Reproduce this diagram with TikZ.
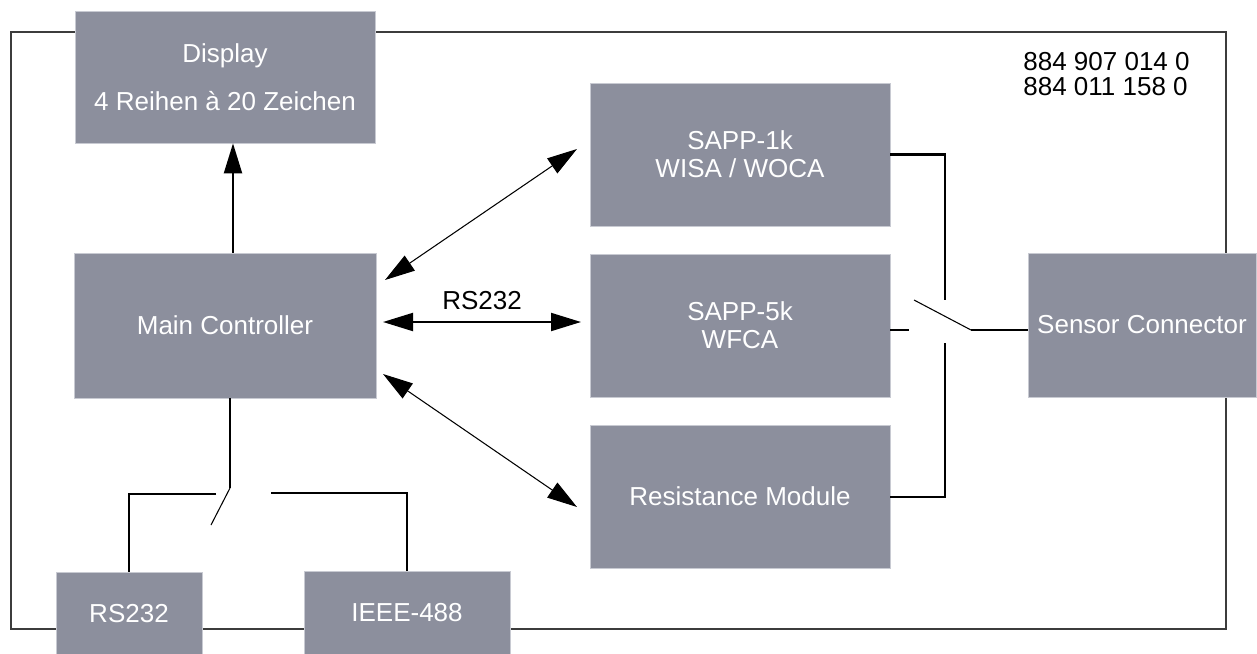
\documentclass[tikz,border=0pt]{standalone}
\usepackage{fontspec}
\setmainfont{Liberation Sans}
\usetikzlibrary{arrows.meta}
\definecolor{boxgray}{RGB}{140,143,157}
\definecolor{boxedge}{RGB}{200,202,210}
\definecolor{framegray}{RGB}{60,60,60}
\tikzset{
  blk/.style={rectangle, fill=boxgray, draw=boxedge, line width=0.4pt, inner sep=0pt,
    text=white, align=center, font=\fontsize{14.8}{15.9}\selectfont},
  wire/.style={line width=1.15pt, black},
  blade/.style={line width=0.6pt, black},
  bigtip/.style={-{Triangle[length=0.6cm,width=0.36cm]}},
  dbltip/.style={{Triangle[length=0.6cm,width=0.36cm]}-{Triangle[length=0.6cm,width=0.36cm]}},
  lbl/.style={font=\fontsize{14.8}{14.2}\selectfont, text=black, inner sep=0pt}
}
\begin{document}
\begin{tikzpicture}[x=0.02cm, y=-0.02cm]
\useasboundingbox (0,0) rectangle (1257,653);
% outer frame
\draw[framegray, line width=0.6pt] (11,32) rectangle (1226,629);
% blocks
\node[blk, minimum width=6cm, minimum height=2.64cm] (disp) at (225,77) {Display\\[11.4pt]4 Reihen à 20 Zeichen};
\node[blk, minimum width=6.04cm, minimum height=2.9cm] (main) at (225,325.5) {Main Controller};
\node[blk, minimum width=6cm, minimum height=2.86cm] (s1) at (740,154.5) {SAPP-1k\\WISA / WOCA};
\node[blk, minimum width=6cm, minimum height=2.86cm] (s5) at (740,325.5) {SAPP-5k\\WFCA};
\node[blk, minimum width=6cm, minimum height=2.86cm] (res) at (740,496.5) {Resistance Module};
\node[blk, minimum width=4.56cm, minimum height=2.88cm] (sens) at (1142,325) {Sensor Connector};
\node[blk, minimum width=2.92cm, minimum height=1.66cm] (rs) at (129,613.5) {RS232};
\node[blk, minimum width=4.12cm, minimum height=1.68cm] (ieee) at (407,613) {IEEE-488};
% texts
\node[lbl, anchor=north west, align=left] (num) at (1023,52) {884 907 014 0\\884 011 158 0};
% display arrow
\draw[wire, bigtip] ([xshift=0.16cm]main.north) -- ([xshift=0.16cm]disp.south);
% diagonal and RS232 arrows
\coordinate (a1m) at (385,280);
\coordinate (a1s) at (577,149);
\coordinate (a2m) at (383,322);
\coordinate (a2s) at (581,322);
\coordinate (a3m) at (383,374);
\coordinate (a3s) at (577,507);
\draw[blade, dbltip] (a1m) -- (a1s);
\draw[wire, dbltip] (a2m) -- node[lbl, above=0.22cm] (rslbl) {RS232} (a2s);
\draw[blade, dbltip] (a3m) -- (a3s);
% right switch
\coordinate (sw1) at (945,300);
\coordinate (sw5a) at (890,330);
\coordinate (sw5b) at (909,330);
\coordinate (bl1) at (914,300);
\coordinate (bl2) at (971,330);
\coordinate (sc) at (1028,330);
\coordinate (sw3) at (945,343);
\draw[wire] (s1.east) -| (sw1);
\draw[wire] (sw5a) -- (sw5b);
\draw[blade] (bl1) -- (bl2);
\draw[wire] (bl2) -- (sc);
\draw[wire] (sw3) |- (res.east);
% bottom switch
\coordinate (mb) at (230,398);
\coordinate (mp) at (230,488);
\coordinate (bb) at (211,525);
\coordinate (ls) at (216,494);
\coordinate (rsw) at (271,493);
\draw[wire] (mb) -- (mp);
\draw[blade] (mp) -- (bb);
\draw[wire] (ls) -| (rs.north);
\draw[wire] (rsw) -| (ieee.north);
\end{tikzpicture}
\end{document}
